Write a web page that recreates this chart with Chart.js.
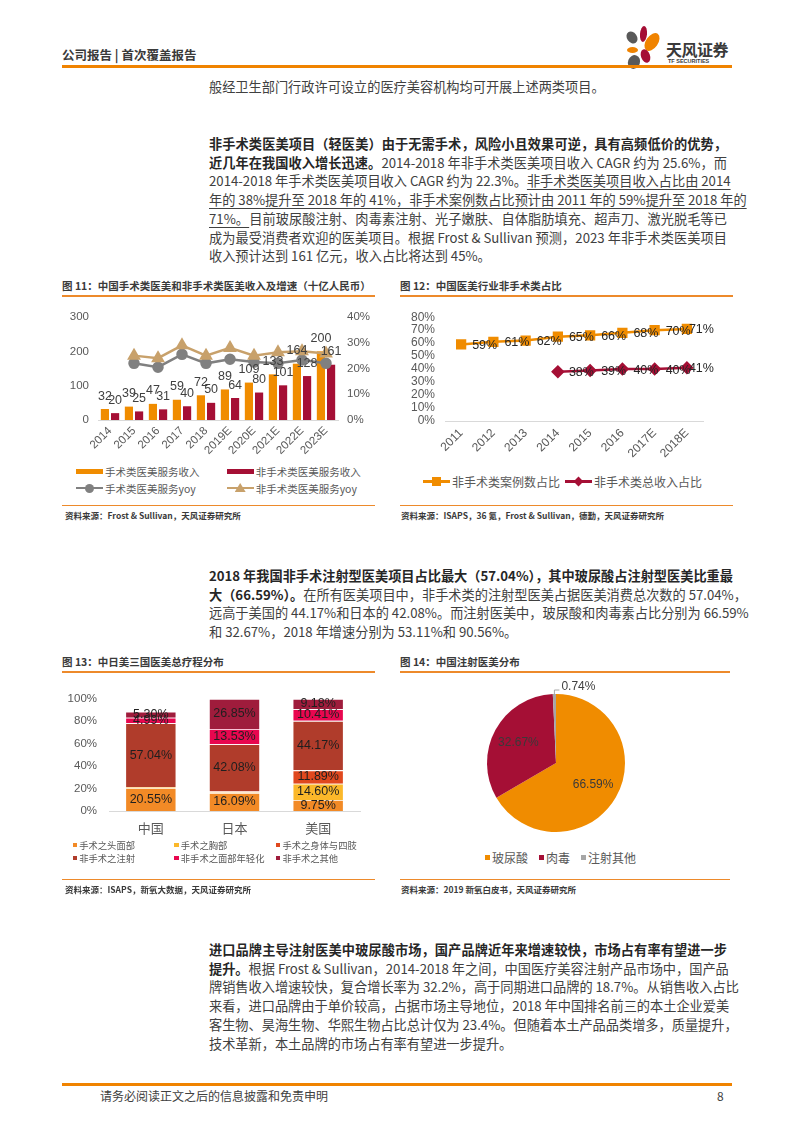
<!DOCTYPE html>
<html lang="zh-CN">
<head>
<meta charset="UTF-8">
<meta name="viewport" content="width=device-width, initial-scale=1.0">
<title>公司报告 - 第8页</title>
<script src="https://cdn.jsdelivr.net/npm/chart.js@4.4.1/dist/chart.umd.min.js"></script>
<style>
    html, body { margin: 0; padding: 0; }
    body {
        width: 793px; height: 1122px; position: relative; overflow: hidden;
        background: #fff; color: #404040;
        font-family: "Noto Sans CJK SC", "Noto Sans", sans-serif;
    }
    .hdr { position: absolute; left: 62px; top: 48px; font-size: 12.5px; line-height: 14px; font-weight: bold; color: #3a3a3a; white-space: nowrap; }
    .rule { position: absolute; background: #ED8A2B; height: 1.5px; }
    .rule.thick { background: #F08300; height: 3px; }
    .para { position: absolute; left: 209px; width: 518px; font-size: 13.2px; line-height: 18.7px; }
    .para div { white-space: nowrap; text-align: justify; text-align-last: justify; }
    .para div.last { text-align-last: left; }
    .para b { color: #262626; }
    .para u { text-decoration-thickness: 1px; text-underline-offset: 3px; }
    .ttl { position: absolute; font-size: 10.5px; line-height: 12px; font-weight: bold; color: #3a3a3a; white-space: nowrap; }
    .src { position: absolute; font-size: 8.5px; line-height: 10px; font-weight: bold; color: #3a3a3a; white-space: nowrap; }
    .chart { position: absolute; }
    .legend { position: absolute; display: grid; color: #595959; white-space: nowrap; }
    .lg-item { display: flex; align-items: center; }
    .ic-rect { display: inline-block; width: 27px; height: 5px; margin-right: 2px; }
    .ic-sq { display: inline-block; margin-right: 2px; }
    .ic-line { position: relative; display: inline-block; width: 27px; height: 12px; margin-right: 2px; }
    .ic-line i { position: absolute; left: 0; right: 0; top: 4.75px; height: 2.5px; }
    .ic-line em { position: absolute; left: 50%; top: 50%; }
    .mk-circle { width: 9px; height: 9px; border-radius: 50%; margin: -4.5px 0 0 -4.5px; }
    .mk-triangle { width: 11px; height: 9px; clip-path: polygon(50% 0, 100% 100%, 0 100%); margin: -5px 0 0 -5.5px; }
    .mk-rect { width: 9px; height: 9px; margin: -4.5px 0 0 -4.5px; }
    .mk-rectRot { width: 7px; height: 7px; margin: -3.5px 0 0 -3.5px; transform: rotate(45deg); }
    .petal { position: absolute; border-radius: 50%; }
    .foot { position: absolute; top: 1089px; font-size: 12px; line-height: 14px; color: #404040; }
</style>
</head>
<body>

<!-- header -->
<div class="hdr">公司报告 | 首次覆盖报告</div>
<div class="petal" style="left:640px;top:26px;width:7px;height:16px;background:#A50D34;transform:rotate(5deg)"></div>
<div class="petal" style="left:646px;top:32px;width:12px;height:20px;background:#F08300;transform:rotate(35deg)"></div>
<div class="petal" style="left:627px;top:31px;width:10px;height:13px;background:#595959;transform:rotate(-35deg)"></div>
<div class="petal" style="left:627px;top:47px;width:11px;height:6px;background:#F08300"></div>
<div class="petal" style="left:641px;top:49px;width:9px;height:14px;background:#A50D34;transform:rotate(-20deg)"></div>
<div class="petal" style="left:628px;top:55px;width:12px;height:14px;background:#595959;transform:rotate(20deg)"></div>
<div style="position:absolute;left:666px;top:40px;font-size:16px;line-height:18px;font-weight:bold;color:#3a3a3a;letter-spacing:-0.5px">天风证券</div>
<div style="position:absolute;left:668px;top:58px;font-size:5.5px;line-height:7px;font-weight:bold;color:#3a3a3a;font-family:'Liberation Sans Narrow','Liberation Sans',sans-serif">TF SECURITIES</div>
<div class="rule thick" style="left:62px;top:65px;width:670px"></div>

<div class="para" style="top:77.6px"><div class="last">般经卫生部门行政许可设立的医疗美容机构均可开展上述两类项目。</div></div>

<div class="para" style="top:135px">
    <div><b>非手术类医美项目（轻医美）由于无需手术，风险小且效果可逆，具有高频低价的优势，</b></div>
    <div><b>近几年在我国收入增长迅速。</b>2014-2018 年非手术类医美项目收入 CAGR 约为 25.6%，而</div>
    <div>2014-2018 年手术类医美项目收入 CAGR 约为 22.3%。<u>非手术类医美项目收入占比由 2014</u></div>
    <div><u>年的 38%提升至 2018 年的 41%，非手术案例数占比预计由 2011 年的 59%提升至 2018 年的</u></div>
    <div><u>71%。</u>目前玻尿酸注射、肉毒素注射、光子嫩肤、自体脂肪填充、超声刀、激光脱毛等已</div>
    <div>成为最受消费者欢迎的医美项目。根据 Frost &amp; Sullivan 预测，2023 年非手术类医美项目</div>
    <div class="last">收入预计达到 161 亿元，收入占比将达到 45%。</div>
</div>

<!-- figure 11 / 12 -->
<div class="ttl" style="left:62px;top:280px">图 11：中国手术类医美和非手术类医美收入及增速（十亿人民币）</div>
<div class="rule" style="left:62px;top:295px;width:313px"></div>
<div class="chart" style="left:62px;top:300px;width:313px;height:162px"><canvas id="c11"></canvas></div>
<div class="legend" id="lg11" style="left:76px;top:462.5px;grid-template-columns:150.7px 150.7px;grid-auto-rows:17px;font-size:10.5px"></div>
<div class="rule" style="left:62px;top:504.5px;width:313px"></div>
<div class="src" style="left:65px;top:510px">资料来源：Frost &amp; Sullivan，天风证券研究所</div>

<div class="ttl" style="left:400px;top:280px">图 12：中国医美行业非手术类占比</div>
<div class="rule" style="left:400px;top:295px;width:333px"></div>
<div class="chart" style="left:400px;top:300px;width:335px;height:170px"><canvas id="c12"></canvas></div>
<div class="legend" id="lg12" style="left:423px;top:473.7px;grid-template-columns:142px 142px;grid-auto-rows:16px;font-size:12px"></div>
<div class="rule" style="left:400px;top:504.5px;width:333px"></div>
<div class="src" style="left:401px;top:510px">资料来源：ISAPS，36 氪，Frost &amp; Sullivan，德勤，天风证券研究所</div>

<div class="para" style="top:567px">
    <div><b>2018 年我国非手术注射型医美项目占比最大（57.04%），其中玻尿酸占注射型医美比重最</b></div>
    <div><b>大（66.59%）。</b>在所有医美项目中，非手术类的注射型医美占据医美消费总次数的 57.04%，</div>
    <div>远高于美国的 44.17%和日本的 42.08%。而注射医美中，玻尿酸和肉毒素占比分别为 66.59%</div>
    <div class="last">和 32.67%，2018 年增速分别为 53.11%和 90.56%。</div>
</div>

<!-- figure 13 / 14 -->
<div class="ttl" style="left:62px;top:655.5px">图 13：中日美三国医美总疗程分布</div>
<div class="rule" style="left:62px;top:671px;width:313px"></div>
<div class="chart" style="left:62px;top:680px;width:313px;height:160px"><canvas id="c13"></canvas></div>
<div class="legend" id="lg13" style="left:72.7px;top:838.3px;grid-template-columns:101.6px 101.6px 101.6px;grid-auto-rows:13.3px;font-size:9.3px"></div>
<div class="rule" style="left:62px;top:878.5px;width:313px"></div>
<div class="src" style="left:65px;top:884px">资料来源：ISAPS，新氧大数据，天风证券研究所</div>

<div class="ttl" style="left:400px;top:655.5px">图 14：中国注射医美分布</div>
<div class="rule" style="left:400px;top:671px;width:330px"></div>
<div class="chart" style="left:456px;top:678px;width:200px;height:170px"><canvas id="c14"></canvas></div>
<div class="legend" id="lg14" style="left:485px;top:849.3px;display:flex;gap:11px;font-size:12px"></div>
<div class="rule" style="left:400px;top:878.5px;width:330px"></div>
<div class="src" style="left:401px;top:884px">资料来源：2019 新氧白皮书，天风证券研究所</div>

<div class="para" style="top:941px">
    <div><b>进口品牌主导注射医美中玻尿酸市场，国产品牌近年来增速较快，市场占有率有望进一步</b></div>
    <div><b>提升。</b>根据 Frost &amp; Sullivan，2014-2018 年之间，中国医疗美容注射产品市场中，国产品</div>
    <div>牌销售收入增速较快，复合增长率为 32.2%，高于同期进口品牌的 18.7%。从销售收入占比</div>
    <div>来看，进口品牌由于单价较高，占据市场主导地位，2018 年中国排名前三的本土企业爱美</div>
    <div>客生物、昊海生物、华熙生物占比总计仅为 23.4%。但随着本土产品品类增多，质量提升，</div>
    <div class="last">技术革新，本土品牌的市场占有率有望进一步提升。</div>
</div>

<!-- footer -->
<div class="rule thick" style="left:62px;top:1083px;width:670px"></div>
<div class="foot" style="left:100px">请务必阅读正文之后的信息披露和免责申明</div>
<div class="foot" style="left:717px">8</div>

<script>
    // 图11：收入（十亿人民币）及增速
    const years11 = ['2014', '2015', '2016', '2017', '2018', '2019E', '2020E', '2021E', '2022E', '2023E'];
    const surgRev = [32, 39, 47, 59, 72, 89, 109, 133, 164, 200];
    const nonSurgRev = [20, 25, 31, 40, 50, 64, 80, 101, 128, 161];
    const surgYoy = [null, 22, 20.5, 25.5, 22, 23.6, 22.5, 22, 23.3, 22];
    const nonSurgYoy = [null, 25, 24, 29, 25, 28, 25, 26.3, 26.7, 25.8];
    const ticks11Left = [0, 100, 200, 300];
    const ticks11Right = [0, 10, 20, 30, 40];

    // 图12：非手术类占比（%）
    const years12 = ['2011', '2012', '2013', '2014', '2015', '2016', '2017E', '2018E'];
    const caseShare = [59, 61, 62, 65, 66, 68, 70, 71];
    const revShare = [null, null, null, 38, 39, 40, 40, 41];

    // 图13：中日美三国医美总疗程分布（%）
    const countries = ['中国', '日本', '美国'];
    const surgHead = [20.55, 16.09, 9.75];
    const surgChest = [0.68, 0.6, 14.60];
    const surgBody = [0, 0.85, 11.89];
    const nonSurgInject = [57.04, 42.08, 44.17];
    const nonSurgFace = [4.99, 13.53, 10.41];
    const nonSurgOther = [5.30, 26.85, 9.18];

    // 图14：中国注射医美分布（%）
    const injectTypes = ['玻尿酸', '肉毒', '注射其他'];
    const injectShare = [66.59, 32.67, 0.74];

    const FONT = "'Liberation Sans', 'Noto Sans CJK SC', sans-serif";
    const ORANGE = '#F08C00';
    const CRIMSON = '#A50F35';
    const GREY = '#808080';
    const TAN = '#C8A16B';

    Chart.defaults.font.family = FONT;
    Chart.defaults.font.size = 11.5;
    Chart.defaults.color = '#595959';
    Chart.defaults.animation = false;
    Chart.defaults.maintainAspectRatio = false;
    Chart.defaults.plugins.legend.display = false;
    Chart.defaults.plugins.tooltip.enabled = false;

    const noGrid = { display: false, drawTicks: false };

    // value labels above the bars
    const barTopLabels = {
        id: 'barTopLabels',
        afterDatasetsDraw(chart) {
            const ctx = chart.ctx;
            ctx.save();
            ctx.font = '12.5px ' + FONT;
            ctx.fillStyle = '#404040';
            ctx.textAlign = 'center';
            ctx.textBaseline = 'alphabetic';
            chart.data.datasets.forEach((ds, i) => {
                if (ds.type === 'line') return;
                chart.getDatasetMeta(i).data.forEach((bar, j) => {
                    ctx.fillText(ds.data[j], bar.x, bar.y - 9.5);
                });
            });
            ctx.restore();
        }
    };

    // value labels right of the points
    const pointRightLabels = {
        id: 'pointRightLabels',
        afterDatasetsDraw(chart) {
            const ctx = chart.ctx;
            ctx.save();
            ctx.font = '12.5px ' + FONT;
            ctx.fillStyle = '#262626';
            ctx.textAlign = 'left';
            ctx.textBaseline = 'middle';
            chart.data.datasets.forEach((ds, i) => {
                const pts = chart.getDatasetMeta(i).data;
                pts.forEach((p, j) => {
                    if (ds.data[j] == null) return;
                    const dx = j === pts.length - 1 ? 2 : 11;
                    ctx.fillText(ds.data[j] + '%', p.x + dx, p.y + 1);
                });
            });
            ctx.restore();
        }
    };

    // labels in the middle of stacked segments
    const stackLabels = {
        id: 'stackLabels',
        afterDatasetsDraw(chart) {
            const ctx = chart.ctx;
            ctx.save();
            ctx.font = '12.5px ' + FONT;
            ctx.fillStyle = '#1f1f1f';
            ctx.textAlign = 'center';
            ctx.textBaseline = 'middle';
            chart.data.datasets.forEach((ds, i) => {
                chart.getDatasetMeta(i).data.forEach((bar, j) => {
                    if (ds.data[j] < 3) return;
                    ctx.fillText(ds.data[j].toFixed(2) + '%', bar.x, (bar.y + bar.base) / 2);
                });
            });
            ctx.restore();
        }
    };

    const pieLabels = {
        id: 'pieLabels',
        afterDatasetsDraw(chart) {
            const ctx = chart.ctx;
            const values = chart.data.datasets[0].data;
            ctx.save();
            ctx.font = '12px ' + FONT;
            ctx.textBaseline = 'middle';
            chart.getDatasetMeta(0).data.forEach((arc, i) => {
                const { x, y, startAngle, endAngle, outerRadius } = arc.getProps(['x', 'y', 'startAngle', 'endAngle', 'outerRadius']);
                const mid = (startAngle + endAngle) / 2;
                const txt = values[i].toFixed(2) + '%';
                if (values[i] > 5) {
                    ctx.fillStyle = '#3a3a3a';
                    ctx.textAlign = 'center';
                    ctx.fillText(txt, x + Math.cos(mid) * outerRadius * 0.62, y + Math.sin(mid) * outerRadius * 0.62);
                } else {
                    const ex = x + Math.cos(mid) * outerRadius;
                    const ey = y + Math.sin(mid) * outerRadius;
                    ctx.strokeStyle = '#A6A6A6';
                    ctx.lineWidth = 1;
                    ctx.beginPath();
                    ctx.moveTo(ex, ey);
                    ctx.lineTo(ex, ey - 4);
                    ctx.lineTo(ex + 5, ey - 4);
                    ctx.stroke();
                    ctx.fillStyle = '#404040';
                    ctx.textAlign = 'left';
                    ctx.fillText(txt, ex + 7, ey - 7);
                }
            });
            ctx.restore();
        }
    };

    function iconHtml(kind, color, marker) {
        if (kind === 'rect') return `<span class="ic-rect" style="background:${color}"></span>`;
        if (kind === 'sq') return `<span class="ic-sq" style="background:${color};width:${marker}px;height:${marker}px"></span>`;
        return `<span class="ic-line"><i style="background:${color}"></i><em class="mk-${marker}" style="background:${color}"></em></span>`;
    }

    function htmlLegend(chart, el, sq) {
        const ds = chart.data.datasets;
        el.innerHTML = ds.map(d => {
            const kind = sq ? 'sq' : ((d.type || chart.config.type) === 'line' ? 'line' : 'rect');
            return `<span class="lg-item">${iconHtml(kind, d.backgroundColor, sq || d.pointStyle)}${d.label}</span>`;
        }).join('');
    }

    // ---------- 图11 ----------
    const c11 = new Chart(document.getElementById('c11'), {
        type: 'bar',
        data: {
            labels: years11,
            datasets: [
                { label: '手术类医美服务收入', data: surgRev, backgroundColor: ORANGE, order: 2, categoryPercentage: 0.85, barPercentage: 0.8 },
                { label: '非手术类医美服务收入', data: nonSurgRev, backgroundColor: CRIMSON, order: 2, categoryPercentage: 0.85, barPercentage: 0.8 },
                { type: 'line', label: '手术类医美服务yoy', data: surgYoy, yAxisID: 'y1', borderColor: GREY, backgroundColor: GREY, borderWidth: 2.5, pointStyle: 'circle', pointRadius: 4.5, order: 1 },
                { type: 'line', label: '非手术类医美服务yoy', data: nonSurgYoy, yAxisID: 'y1', borderColor: TAN, backgroundColor: TAN, borderWidth: 2.5, pointStyle: 'triangle', pointRadius: 5.5, order: 0 }
            ]
        },
        options: {
            layout: { padding: { top: 17, left: 0, right: 0, bottom: 0 } },
            scales: {
                x: {
                    grid: noGrid, border: { color: '#D9D9D9' },
                    ticks: { minRotation: 45, maxRotation: 45, autoSkip: false, padding: 4 },
                    afterFit: s => { s.height = 42; }
                },
                y: {
                    min: 0, max: 300,
                    afterBuildTicks: s => { s.ticks = ticks11Left.map(v => ({ value: v })); },
                    ticks: { padding: 9, autoSkip: false }, grid: noGrid, border: { display: false },
                    afterFit: s => { s.width = 36; }
                },
                y1: {
                    position: 'right', min: 0, max: 40,
                    afterBuildTicks: s => { s.ticks = ticks11Right.map(v => ({ value: v })); },
                    ticks: { padding: 9, autoSkip: false, callback: v => v + '%' }, grid: noGrid, border: { display: false },
                    afterFit: s => { s.width = 37; }
                }
            }
        },
        plugins: [barTopLabels]
    });
    htmlLegend(c11, document.getElementById('lg11'));

    // ---------- 图12 ----------
    const c12 = new Chart(document.getElementById('c12'), {
        type: 'line',
        data: {
            labels: years12,
            datasets: [
                { label: '非手术类案例数占比', data: caseShare, borderColor: ORANGE, backgroundColor: ORANGE, borderWidth: 2.5, pointStyle: 'rect', pointRadius: 5.5 },
                { label: '非手术类总收入占比', data: revShare, borderColor: CRIMSON, backgroundColor: CRIMSON, borderWidth: 2.5, pointStyle: 'rectRot', pointRadius: 5 }
            ]
        },
        options: {
            layout: { padding: { top: 13, left: 0, right: 32, bottom: 0 } },
            scales: {
                x: {
                    offset: true, grid: noGrid, border: { color: '#D9D9D9' },
                    ticks: { minRotation: 45, maxRotation: 45, autoSkip: false, padding: 5, font: { size: 12 } },
                    afterFit: s => { s.height = 49; }
                },
                y: {
                    min: 0, max: 80,
                    ticks: { stepSize: 10, autoSkip: false, padding: 10, callback: v => v + '%', font: { size: 12 } },
                    grid: noGrid, border: { display: false },
                    afterFit: s => { s.width = 45; }
                }
            }
        },
        plugins: [pointRightLabels]
    });
    htmlLegend(c12, document.getElementById('lg12'));

    // ---------- 图13 ----------
    const stackSeries = [
        ['手术之头面部', surgHead, '#F28A26'],
        ['手术之胸部', surgChest, '#FBB82A'],
        ['手术之身体与四肢', surgBody, '#E0481E'],
        ['非手术之注射', nonSurgInject, '#B03C2B'],
        ['非手术之面部年轻化', nonSurgFace, '#E8074F'],
        ['非手术之其他', nonSurgOther, '#9F1C3C']
    ];
    const c13 = new Chart(document.getElementById('c13'), {
        type: 'bar',
        data: {
            labels: countries,
            datasets: stackSeries.map(([label, data, color]) => ({
                label, data, backgroundColor: color,
                borderColor: 'rgba(255,255,255,0.45)', borderWidth: 0.8,
                categoryPercentage: 1, barPercentage: 0.61
            }))
        },
        options: {
            layout: { padding: { top: 12, left: 0, right: 15, bottom: 0 } },
            scales: {
                x: {
                    stacked: true, grid: noGrid, border: { color: '#D9D9D9' },
                    ticks: { padding: 11, font: { size: 13 } },
                    afterFit: s => { s.height = 29; }
                },
                y: {
                    stacked: true, min: 0, max: 100,
                    ticks: { stepSize: 20, autoSkip: false, padding: 12, callback: v => v + '%' },
                    grid: noGrid, border: { display: false },
                    afterFit: s => { s.width = 47; }
                }
            }
        },
        plugins: [stackLabels]
    });
    htmlLegend(c13, document.getElementById('lg13'), 4.5);

    // ---------- 图14 ----------
    const pieColors = [ORANGE, CRIMSON, '#A6A6A6'];
    const c14 = new Chart(document.getElementById('c14'), {
        type: 'pie',
        data: {
            labels: injectTypes,
            datasets: [{ data: injectShare, backgroundColor: pieColors, borderWidth: 0, hoverOffset: 0 }]
        },
        options: {
            layout: { padding: { left: 31, right: 31, top: 16, bottom: 16 } }
        },
        plugins: [pieLabels]
    });
    document.getElementById('lg14').innerHTML = c14.data.labels.map((l, i) =>
        `<span class="lg-item">${iconHtml('sq', pieColors[i], 5)}${l}</span>`).join('');
</script>
</body>
</html>
